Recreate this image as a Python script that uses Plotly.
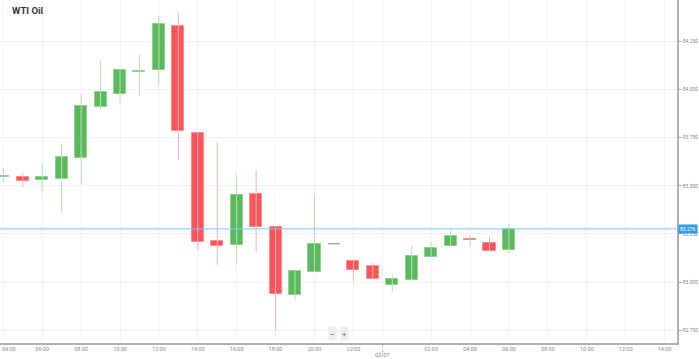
import plotly.graph_objects as go
import pandas as pd

# ---- data (hourly candles) ----
start = "2023-03-06 04:00"
opens = [83.544, 83.548, 83.529, 83.536, 83.645, 83.911, 83.977, 84.091, 84.101, 84.329,
         83.775, 83.213, 83.192, 83.457, 83.284, 82.931, 83.052, 83.199, 83.107, 83.084,
         82.987, 83.009, 83.132, 83.189, 83.225, 83.203, 83.168]
highs = [83.593, 83.567, 83.619, 83.718, 83.977, 84.149, 84.100, 84.179, 84.381, 84.398,
         83.775, 83.726, 83.557, 83.579, 83.284, 83.059, 83.457, 83.199, 83.107, 83.099,
         83.039, 83.189, 83.208, 83.277, 83.241, 83.237, 83.301]
lows = [83.515, 83.490, 83.464, 83.360, 83.505, 83.899, 83.930, 83.968, 84.023, 83.631,
        83.168, 83.090, 83.090, 83.159, 82.750, 82.909, 83.052, 83.199, 83.004, 83.018,
        82.949, 83.009, 83.127, 83.189, 83.185, 83.159, 83.151]
closes = [83.549, 83.527, 83.548, 83.650, 83.916, 83.987, 84.100, 84.096, 84.338, 83.785,
          83.206, 83.187, 83.452, 83.287, 82.938, 83.059, 83.198, 83.199, 83.063, 83.018,
          83.018, 83.137, 83.177, 83.237, 83.216, 83.159, 83.276]
y_ticks = [82.75, 83.00, 83.25, 83.50, 83.75, 84.00, 84.25]
title = "WTI Oil"
date_label = "03/07"

times = pd.date_range(start, periods=len(opens), freq="h")
HOUR = pd.Timedelta(hours=1)
body_w = 0.62 * 3600000

UP, DOWN, FLAT = "#5cb85c", "#f7565b", "#888888"
UP_W, DOWN_W = "#b5e0b5", "#fbb0b2"
UP_L, DOWN_L = "#8ed08e", "#fa8b8e"

fig = go.Figure()

# wicks
for color, cond in [(UP_W, lambda o, c: c > o), (DOWN_W, lambda o, c: c < o)]:
    xs, ys = [], []
    for t, o, h, l, c in zip(times, opens, highs, lows, closes):
        if cond(o, c):
            xs += [t, t, None]
            ys += [l, h, None]
    fig.add_trace(go.Scatter(x=xs, y=ys, mode="lines", line=dict(color=color, width=1),
                             hoverinfo="skip"))

# bodies
idx = [i for i in range(len(opens)) if opens[i] != closes[i]]
fig.add_trace(go.Bar(
    x=[times[i] for i in idx],
    y=[abs(closes[i] - opens[i]) for i in idx],
    base=[min(opens[i], closes[i]) for i in idx],
    width=body_w,
    marker=dict(color=[UP if closes[i] > opens[i] else DOWN for i in idx],
                line=dict(color=[UP_L if closes[i] > opens[i] else DOWN_L for i in idx], width=1)),
    hoverinfo="skip",
))

# flat (doji) candles
xs, ys = [], []
for i in range(len(opens)):
    if opens[i] == closes[i]:
        half = pd.Timedelta(milliseconds=body_w / 2)
        xs += [times[i] - half, times[i] + half, None]
        ys += [opens[i], opens[i], None]
fig.add_trace(go.Scatter(x=xs, y=ys, mode="lines", line=dict(color=FLAT, width=1), hoverinfo="skip"))

# x ticks
t0 = times[0]
tickvals, ticktext = [], []
t = t0
end = t0 + 34 * HOUR
while t <= end:
    if not (t.hour == 0 and t.minute == 0):
        tickvals.append(t)
        ticktext.append(t.strftime("%H:%M"))
    t += 2 * HOUR
day_mark = pd.Timestamp("2023-03-06 23:30")
tickvals.append(day_mark)
ticktext.append("")

last = closes[-1]
tick_font = dict(size=5.5, color="#888", family="Roboto")

fig.update_layout(
    width=699, height=359,
    margin=dict(l=0, r=22, t=0, b=16),
    plot_bgcolor="white", paper_bgcolor="white",
    showlegend=False,
    bargap=0,
    xaxis=dict(
        type="date",
        range=[t0 - 0.17 * HOUR, t0 + 34.64 * HOUR],
        tickvals=tickvals, ticktext=ticktext,
        tickfont=tick_font,
        showgrid=True, gridcolor="#f2f2f2", gridwidth=1,
        showline=True, linecolor="#b0b0b0", linewidth=1.5,
        zeroline=False, ticks="", fixedrange=True,
    ),
    yaxis=dict(
        side="right",
        range=[82.684, 84.464],
        tickvals=y_ticks, ticktext=[f"{v:.3f}" for v in y_ticks],
        tickfont=dict(size=5, color="#888", family="Roboto"),
        ticks="outside", ticklen=3, tickcolor="#b0b0b0",
        showgrid=True, gridcolor="#f2f2f2", gridwidth=1,
        showline=True, linecolor="#b0b0b0", linewidth=1.5,
        zeroline=False, fixedrange=True,
    ),
    shapes=[
        dict(type="line", xref="paper", yref="y", x0=0, x1=1, y0=last, y1=last,
             line=dict(color="#7cc6f4", width=1)),
        dict(type="line", xref="x", yref="paper", x0=day_mark, x1=day_mark, y0=-0.028, y1=0,
             line=dict(color="#aaaaaa", width=1, dash="dot")),
    ],
    annotations=[
        dict(text=f"<b>{title}</b>", xref="paper", yref="paper", x=10 / 677, y=1 - 11 / 343,
             xanchor="left", yanchor="middle", showarrow=False,
             font=dict(size=9.5, color="#333", family="Roboto")),
        dict(text=f"{last:.3f}", xref="paper", yref="y", x=1, y=last, xanchor="left",
             yanchor="middle", showarrow=False, bgcolor="#2d9bf0", borderpad=1,
             xshift=1, font=dict(size=5, color="white", family="Roboto")),
        dict(text=date_label, xref="x", yref="paper", x=day_mark, y=-12 / 343,
             xanchor="center", yanchor="middle", showarrow=False,
             font=tick_font),
        dict(text=t0.strftime("%H:%M"), xref="paper", yref="paper", x=0, y=-6 / 343,
             xanchor="left", yanchor="middle", showarrow=False,
             font=tick_font),
        dict(text="−", xref="paper", yref="paper", x=332 / 677, y=1 - 333 / 343,
             xanchor="center", yanchor="middle", showarrow=False, bgcolor="#eeeeee",
             borderpad=1, font=dict(size=8, color="#555")),
        dict(text="+", xref="paper", yref="paper", x=344 / 677, y=1 - 333 / 343,
             xanchor="center", yanchor="middle", showarrow=False, bgcolor="#eeeeee",
             borderpad=1, font=dict(size=8, color="#555")),
    ],
)

fig.write_html("out.html", config={"displayModeBar": False},
               post_script="document.body.style.margin='0';document.body.style.overflow='hidden';")
